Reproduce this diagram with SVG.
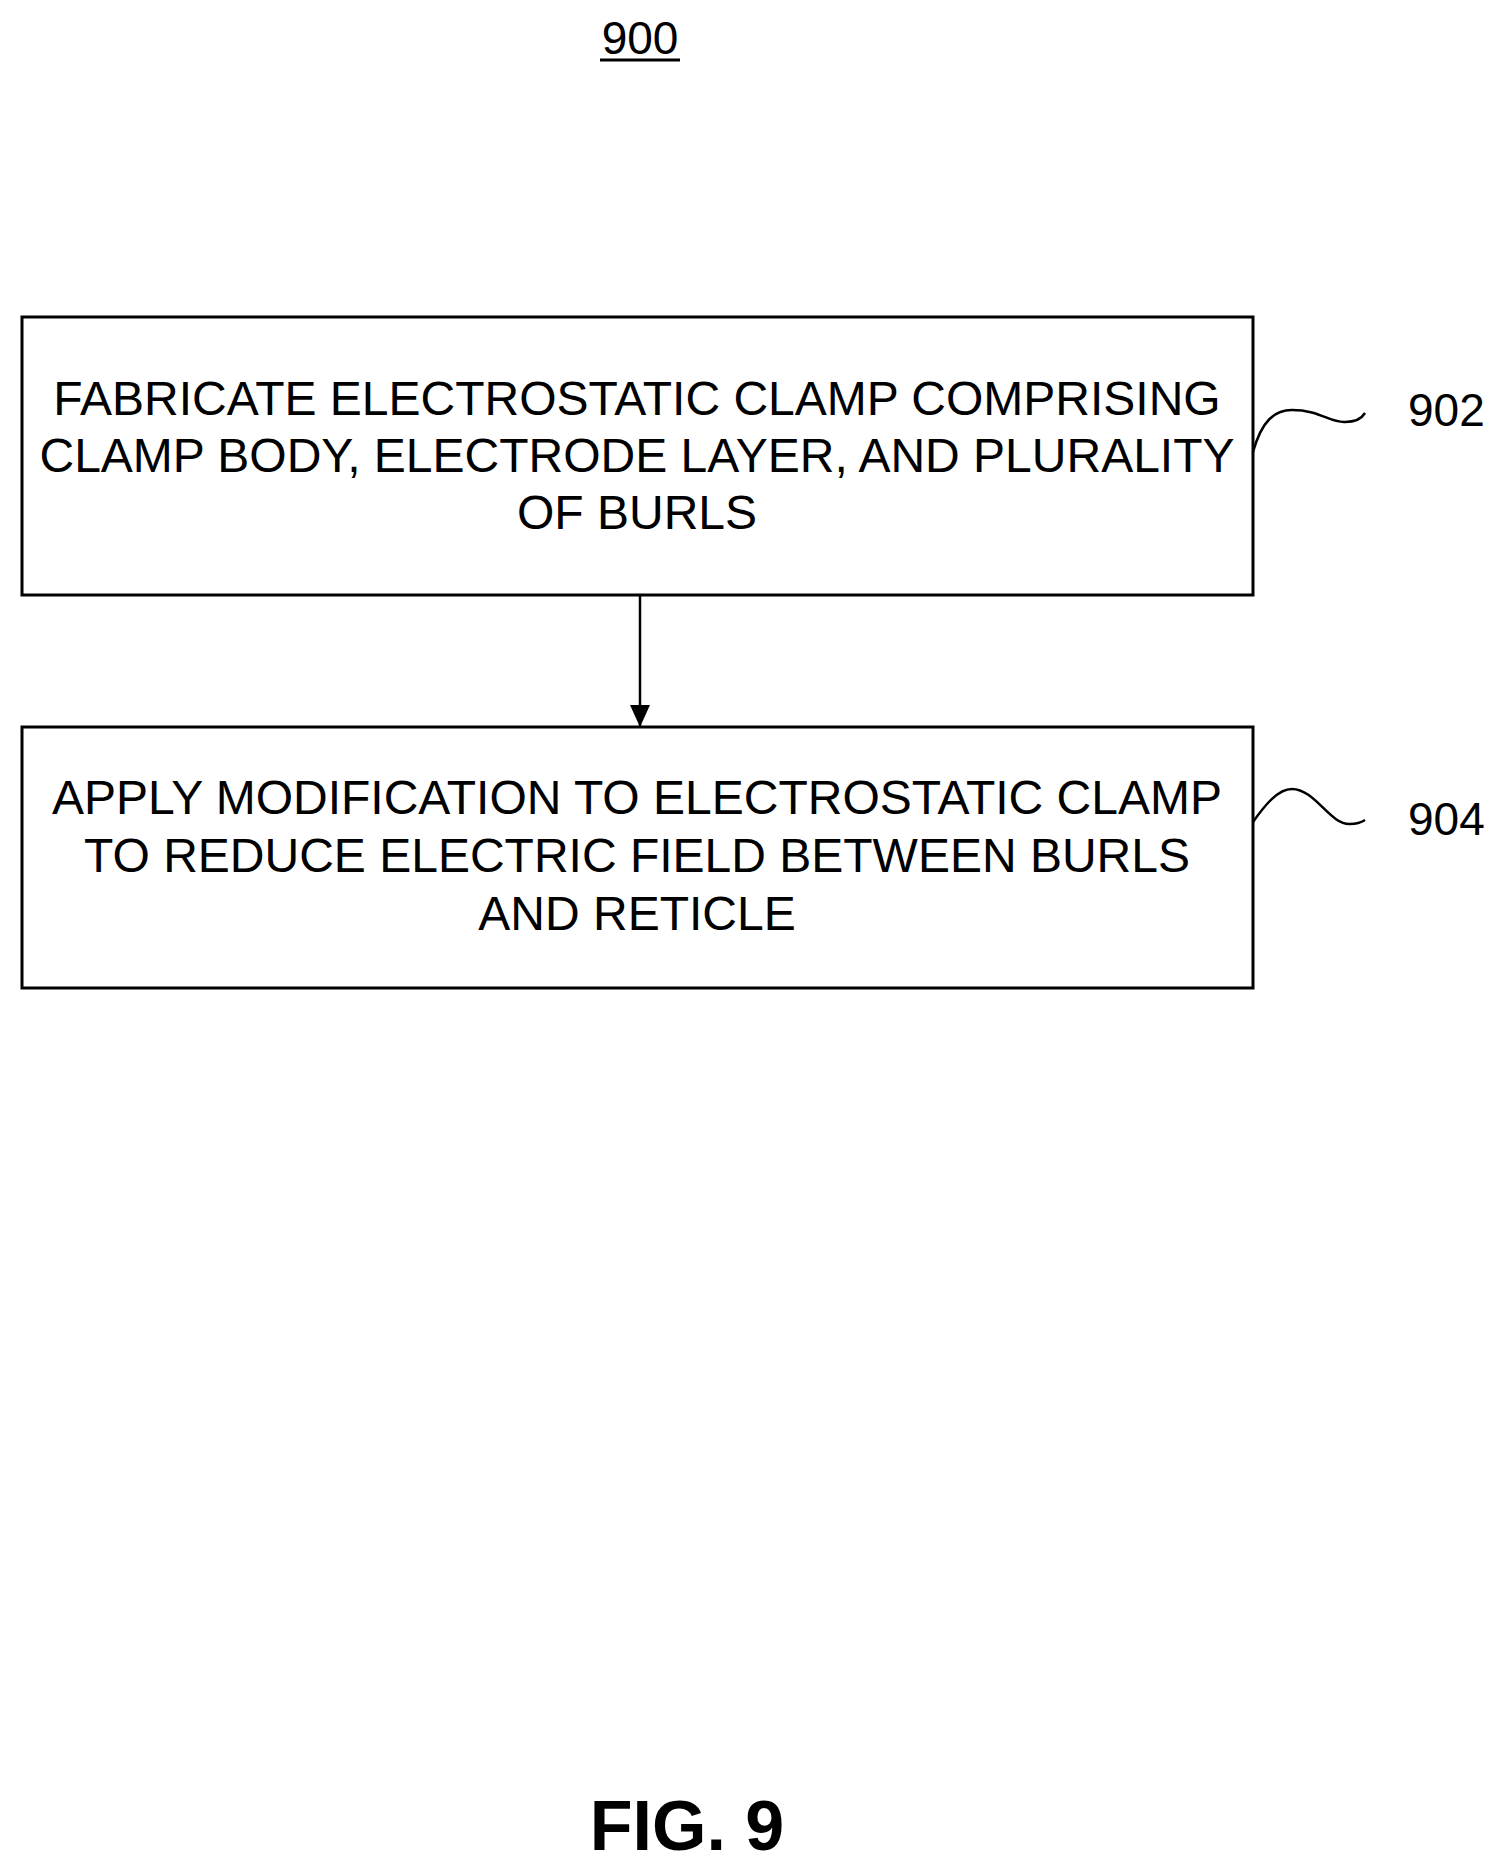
<svg xmlns="http://www.w3.org/2000/svg" width="1503" height="1872" viewBox="0 0 1503 1872">
<style>
text{font-family:"Liberation Sans",Arial,sans-serif;fill:#000}
.t{font-size:48px;text-anchor:middle}
.r{font-size:46px}
.box{fill:#fff;stroke:#000;stroke-width:3}
.ln{fill:none;stroke:#000;stroke-width:2.5}
</style>
<defs>
<marker id="a" markerWidth="24" markerHeight="24" refX="22" refY="12" orient="auto" markerUnits="userSpaceOnUse"><path d="M0,2 L22,12 L0,22 z" fill="#000"/></marker></defs>
<rect width="1503" height="1872" fill="#fff"/>
<g id="title"><text class="r" x="640" y="54" text-anchor="middle">900</text><line x1="600" y1="60" x2="680" y2="60" stroke="#000" stroke-width="3"/></g>
<g id="n902"><rect class="box" x="22" y="317" width="1231" height="278"/>
<text class="t"><tspan x="637" y="415">FABRICATE ELECTROSTATIC CLAMP COMPRISING</tspan><tspan x="637" y="472">CLAMP BODY, ELECTRODE LAYER, AND PLURALITY</tspan><tspan x="637" y="529">OF BURLS</tspan></text></g>
<g id="n904"><rect class="box" x="22" y="727" width="1231" height="261"/>
<text class="t"><tspan x="637" y="814">APPLY MODIFICATION TO ELECTROSTATIC CLAMP</tspan><tspan x="637" y="872">TO REDUCE ELECTRIC FIELD BETWEEN BURLS</tspan><tspan x="637" y="930">AND RETICLE</tspan></text></g>
<g id="labels">
<path class="ln" d="M1253,452 C1262,420 1275,410 1292,410 C1320,410 1330,423 1345,422 C1355,422 1362,418 1365,413"/>
<text class="r" x="1408" y="426">902</text>
<path class="ln" d="M1253,822 C1265,805 1278,789 1292,789 C1315,789 1330,825 1350,824 C1357,824 1362,822 1365,820"/>
<text class="r" x="1408" y="835">904</text>
</g>
<g id="connectors"><line x1="640" y1="595" x2="640" y2="727" stroke="#000" stroke-width="2.5" marker-end="url(#a)"/></g>
<text x="687" y="1850" font-size="70" font-weight="bold" text-anchor="middle">FIG. 9</text>
</svg>
